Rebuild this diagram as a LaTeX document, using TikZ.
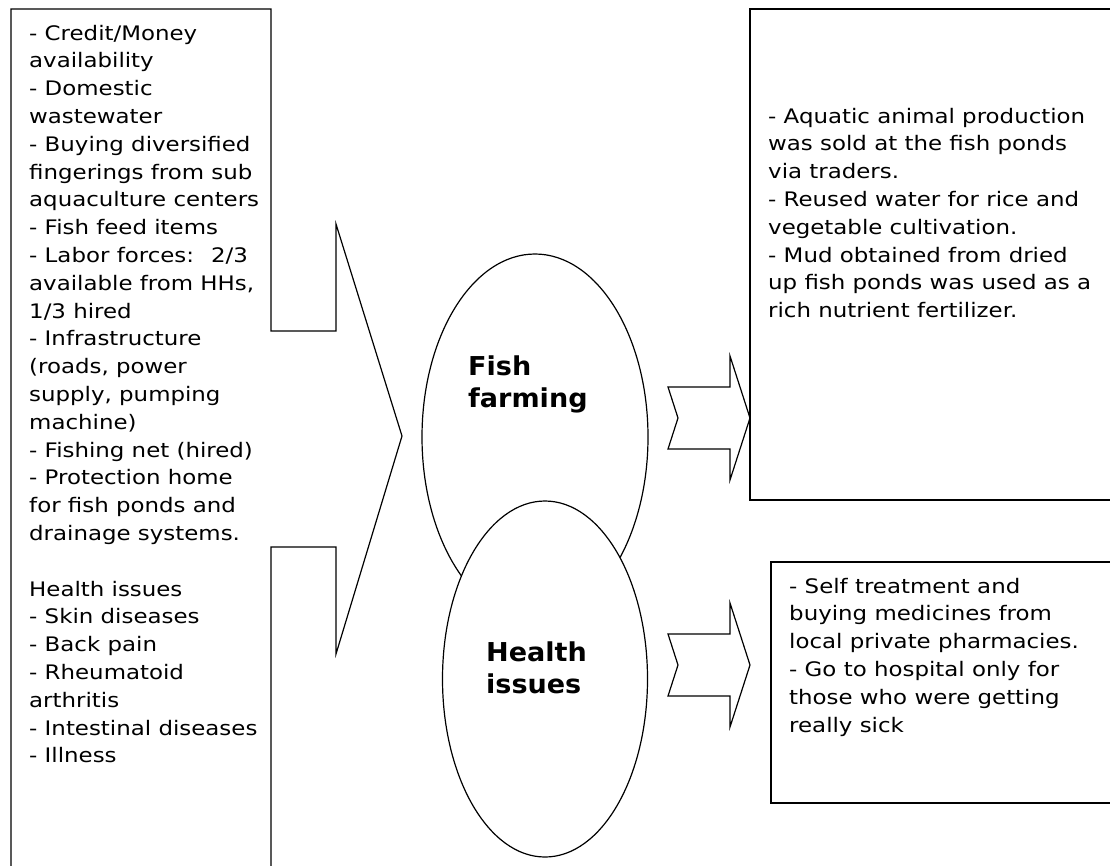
\documentclass[tikz,border=0pt]{standalone}
\usepackage{fontspec}
\setmainfont{DejaVu Sans}[FakeStretch=1.145]
\newfontfamily\titlefont{DejaVu Sans}[FakeStretch=1.04]
\usetikzlibrary{shapes.geometric}
\tikzset{
  outline/.style={draw=black, line width=1.2pt, line join=miter},
  bodytext/.style={anchor=base west, inner sep=0pt, font=\fontsize{20}{27.8}\selectfont},
  titletext/.style={anchor=base west, inner sep=0pt, font=\titlefont\fontsize{26}{32}\selectfont\bfseries},
  oval/.style={ellipse, outline, fill=white, inner sep=0pt, outer sep=0pt},
  panel/.style={rectangle, outline, fill=white, inner sep=0pt, outer sep=0pt, anchor=north west},
  blockarrow/.pic={\draw[outline] (-82,-31) -- (-20,-31) -- (-20,-62) -- (0,0) -- (-20,62) -- (-20,31) -- (-82,31) -- (-72,0) -- cycle;}
}
\begin{document}
\begin{tikzpicture}[x=1pt,y=-1pt]
\useasboundingbox (0,0) rectangle (1110,865);
% left callout
\coordinate (cTL) at (11,9);
\coordinate (cTR) at (271,9);
\coordinate (cTip) at (402,436);
\draw[outline] (11,870) -- (cTL) -- (cTR) -- (271,331) -- (336,331) -- (336,224)
  -- (cTip) -- (336,654) -- (336,547) -- (271,547) -- (271,870);
\node[bodytext] (inputs) at (29,40) {\begin{tabular}[t]{@{}l@{}}
- Credit/Money\\
availability\\
- Domestic\\
wastewater\\
- Buying diversified\\
fingerings from sub\\
aquaculture centers\\
- Fish feed items\\
- Labor forces:~ 2/3\\
available from HHs,\\
1/3 hired\\
- Infrastructure\\
(roads, power\\
supply, pumping\\
machine)\\
- Fishing net (hired)\\
- Protection home\\
for fish ponds and\\
drainage systems.\\
\mbox{}\\
Health issues\\
- Skin diseases\\
- Back pain\\
- Rheumatoid\\
arthritis\\
- Intestinal diseases\\
- Illness
\end{tabular}};
% ellipses
\node[oval, minimum width=226pt, minimum height=366pt] (fish) at (535,437) {};
\node[oval, minimum width=205pt, minimum height=356pt] (health) at (545,679) {};
\node[titletext] (fishlabel) at (468,375) {\begin{tabular}[t]{@{}l@{}}Fish\\farming\end{tabular}};
\node[titletext] (healthlabel) at (486,661) {\begin{tabular}[t]{@{}l@{}}Health\\issues\end{tabular}};
% right boxes
\node[panel, minimum width=375pt, minimum height=491pt] (outbox) at (750,9) {};
\node[panel, minimum width=355pt, minimum height=241pt] (carebox) at (771,562) {};
\node[bodytext] (outtext) at (768,123) {\begin{tabular}[t]{@{}l@{}}
- Aquatic animal production\\
was sold at the fish ponds\\
via traders.\\
- Reused water for rice and\\
vegetable cultivation.\\
- Mud obtained from dried\\
up fish ponds was used as a\\
rich nutrient fertilizer.
\end{tabular}};
\node[bodytext] (caretext) at (789,593) {\begin{tabular}[t]{@{}l@{}}
- Self treatment and\\
buying medicines from\\
local private pharmacies.\\
- Go to hospital only for\\
those who were getting\\
really sick
\end{tabular}};
% block arrows
\coordinate (fishTip) at (750,418);
\coordinate (healthTip) at (750,665);
\pic at (fishTip) {blockarrow};
\pic at (healthTip) {blockarrow};
\end{tikzpicture}
\end{document}
